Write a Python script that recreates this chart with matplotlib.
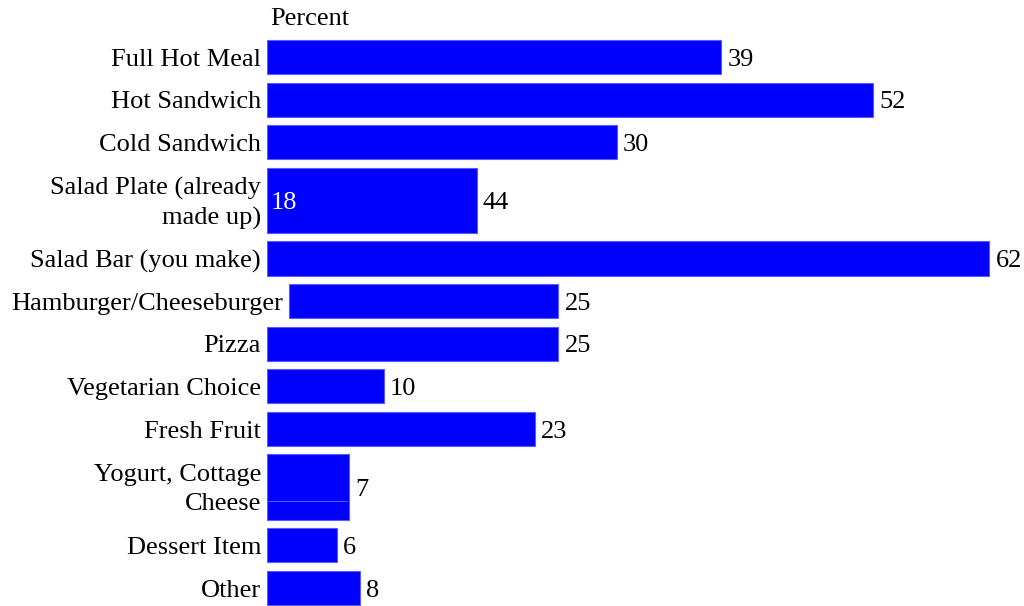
import numpy as np
import matplotlib
matplotlib.use('Agg')
import matplotlib.pyplot as plt

plt.rcParams['font.family'] = ['Liberation Serif', 'DejaVu Serif']

# lunch choices, in percent
categories = ['Full Hot Meal', 'Hot Sandwich', 'Cold Sandwich',
              'Salad Plate (already\nmade up)', 'Salad Bar (you make)',
              'Hamburger/Cheeseburger', 'Pizza', 'Vegetarian Choice',
              'Fresh Fruit', 'Yogurt, Cottage\nCheese', 'Dessert Item', 'Other']
values = [39, 52, 30, 18, 62, 25, 25, 10, 23, 7, 6, 8]
end_labels = ['39', '52', '30', '44', '62', '25', '25', '10', '23', '7', '6', '8']
inner_labels = {3: '18'}

# layout
W, H = 1024, 606
row_px = 42.6            # pitch of a one-line row
tall_slot = 1.73         # slot of a two-line row, in rows
bar_frac = 0.8           # bar thickness of a one-line row
tall_bar = 1.53
bar_shift = {5: 1.9}     # bar that got pushed right by its long label
fs = 19
dy = -2                  # nudge text down a little (points)
blue = '#0000ff'
edge = '#5a5aff'

tall = np.array(['\n' in c for c in categories])
slots = np.where(tall, tall_slot, 1.0)
centers = np.cumsum(slots) - slots / 2
heights = np.where(tall, tall_bar, bar_frac)
starts = np.array([bar_shift.get(i, 0.0) for i in range(len(values))])
widths = np.array(values) - starts

fig = plt.figure(figsize=(W / 100, H / 100), dpi=100)
x_left = 267 / W
px_per_unit = 11.65
xmax = 64
ax = fig.add_axes([x_left, 0, xmax * px_per_unit / W, 1])
top_px = 57 - row_px / 2
ax.set_ylim((H - top_px) / row_px, -top_px / row_px)
ax.set_xlim(0, xmax)
ax.axis('off')

ax.barh(centers, widths, left=starts, height=heights, color=blue,
        edgecolor=edge, linewidth=0.8)

# thin seam drawn inside the yogurt bar
i = 9
ax.hlines(centers[i] - heights[i] / 2 + 0.72 * heights[i], starts[i] + 0.05,
          values[i] - 0.1, color=edge, linewidth=0.8)

for i, (c, v, s) in enumerate(zip(categories, values, starts)):
    ax.annotate(c, (s, centers[i]), xytext=(-4.3, dy), textcoords='offset points',
                ha='right', va='center', multialignment='right',
                fontsize=fs, linespacing=1.4, annotation_clip=False)
    ax.annotate(end_labels[i], (v, centers[i]), xytext=(4.5, dy),
                textcoords='offset points', ha='left', va='center',
                fontsize=fs, annotation_clip=False)
for i, t in inner_labels.items():
    ax.annotate(t, (starts[i], centers[i]), xytext=(2.5, dy),
                textcoords='offset points', ha='left', va='center',
                fontsize=fs, color='white')

fig.text(270 / W, 1 - 19 / H, 'Percent', ha='left', va='center', fontsize=fs)

fig.savefig('out.png', dpi=100)
